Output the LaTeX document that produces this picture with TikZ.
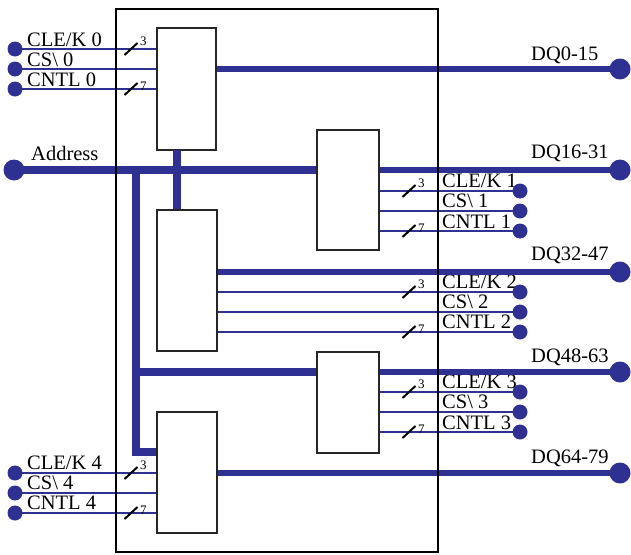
\documentclass[tikz,border=0pt]{standalone}
\usepackage{fontspec}
\setmainfont{Liberation Serif}
\definecolor{busblue}{RGB}{46,49,146}
\begin{document}
\begin{tikzpicture}[x=1pt,y=-1pt,
  chip/.style={draw=black!85, line width=1.3pt, fill=white, inner sep=0pt},
  sig/.style={busblue, line width=2.2pt},
  dqbus/.style={busblue, line width=6pt},
  addrbus/.style={busblue, line width=8.5pt},
  bigdot/.style={circle, fill=busblue, minimum size=21pt, inner sep=0pt},
  smalldot/.style={circle, fill=busblue, minimum size=15pt, inner sep=0pt},
  lbl/.style={font=\fontsize{20.5}{20.5}\selectfont, anchor=base west, inner sep=0pt},
  num/.style={font=\fontsize{13}{13}\selectfont, anchor=base west, inner sep=0pt},
  slash/.style={black, line width=2pt}
]
\useasboundingbox (0,0) rectangle (631,554);

% chips
\node[chip, minimum width=59pt, minimum height=122pt] (b0) at (186.5,89) {};
\node[chip, minimum width=62pt, minimum height=120pt] (b1) at (348,190) {};
\node[chip, minimum width=60pt, minimum height=141pt] (b2) at (187,280.5) {};
\node[chip, minimum width=62pt, minimum height=101pt] (b3) at (348,402.5) {};
\node[chip, minimum width=60pt, minimum height=121pt] (b4) at (187,472.5) {};

% labels left
\node[lbl] (t0a) at (27,46) {CLE/K 0};
\node[lbl] (t0b) at (27,66) {CS\textbackslash\ 0};
\node[lbl] (t0c) at (27,86) {CNTL 0};
\node[lbl] (tad) at (31,160) {Address};
\node[lbl] (t4a) at (27,469) {CLE/K 4};
\node[lbl] (t4b) at (27,489) {CS\textbackslash\ 4};
\node[lbl] (t4c) at (27,509) {CNTL 4};
% labels right
\node[lbl] (t1a) at (442,187) {CLE/K 1};
\node[lbl] (t1b) at (442,207) {CS\textbackslash\ 1};
\node[lbl] (t1c) at (442,228) {CNTL 1};
\node[lbl] (t2a) at (442,288) {CLE/K 2};
\node[lbl] (t2b) at (442,308) {CS\textbackslash\ 2};
\node[lbl] (t2c) at (442,328) {CNTL 2};
\node[lbl] (t3a) at (442,388) {CLE/K 3};
\node[lbl] (t3b) at (442,408) {CS\textbackslash\ 3};
\node[lbl] (t3c) at (442,429) {CNTL 3};
\node[lbl] (q0) at (531,60) {DQ0-15};
\node[lbl] (q1) at (531,158) {DQ16-31};
\node[lbl] (q2) at (531,260) {DQ32-47};
\node[lbl] (q3) at (531,362) {DQ48-63};
\node[lbl] (q4) at (531,463) {DQ64-79};

% dots
\node[smalldot] (l0a) at (15,49) {};
\node[smalldot] (l0b) at (15,69) {};
\node[smalldot] (l0c) at (15,89) {};
\node[bigdot] (ad) at (14,170) {};
\node[smalldot] (l4a) at (15,473) {};
\node[smalldot] (l4b) at (15,493) {};
\node[smalldot] (l4c) at (15,513) {};
\node[smalldot] (r1a) at (520,191) {};
\node[smalldot] (r1b) at (520,211) {};
\node[smalldot] (r1c) at (520,231) {};
\node[smalldot] (r2a) at (520,292) {};
\node[smalldot] (r2b) at (520,312) {};
\node[smalldot] (r2c) at (520,332) {};
\node[smalldot] (r3a) at (520,392) {};
\node[smalldot] (r3b) at (520,412) {};
\node[smalldot] (r3c) at (520,432) {};
\node[bigdot] (d0) at (620,69) {};
\node[bigdot] (d1) at (620,170) {};
\node[bigdot] (d2) at (620,272) {};
\node[bigdot] (d3) at (620,372) {};
\node[bigdot] (d4) at (620,473) {};

% address bus
\coordinate (j1) at (136,170);
\coordinate (j2) at (136,452);
\coordinate (j3) at (136,372);
\coordinate (v0) at (177,150);
\draw[addrbus] (ad.center) -- (ad.center -| b1.west);
\draw[addrbus] (j1) -- (j2) -- (j2 -| b4.west);
\draw[addrbus] (j3) -- (j3 -| b3.west);
\draw[addrbus] (v0) -- (v0 |- b2.north);

% data buses
\draw[dqbus] (d0 -| b0.east) -- (d0.center);
\draw[dqbus] (d1 -| b1.east) -- (d1.center);
\draw[dqbus] (d2 -| b2.east) -- (d2.center);
\draw[dqbus] (d3 -| b3.east) -- (d3.center);
\draw[dqbus] (d4 -| b4.east) -- (d4.center);

% signal lines
\foreach \d/\b in {l0a/b0,l0b/b0,l0c/b0,l4a/b4,l4b/b4,l4c/b4}
  \draw[sig] (\d.center) -- (\d.center -| \b.west);
\foreach \d/\b in {r1a/b1,r1b/b1,r1c/b1,r2a/b2,r2b/b2,r2c/b2,r3a/b3,r3b/b3,r3c/b3}
  \draw[sig] (\b.east |- \d.center) -- (\d.center);

% bus-width slashes
\foreach \x/\y/\n in {131/49/3,131/473/3,409/191/3,409/292/3,409/392/3}{
  \draw[slash] (\x-6.5,\y+6) -- (\x+6.5,\y-6);
  \node[num] at (\x+9,\y-4) {\n};
}
\foreach \x/\y/\n in {131/89/7,131/513/7,409/231/7,409/332/7,409/432/7}{
  \draw[slash] (\x-6.5,\y+6) -- (\x+6.5,\y-6);
  \node[num] at (\x+9,\y+1) {\n};
}

% outer module outline
\node[draw=black, line width=1.8pt, minimum width=322pt, minimum height=543pt, inner sep=0pt] (outer) at (277,280.5) {};
\end{tikzpicture}
\end{document}
